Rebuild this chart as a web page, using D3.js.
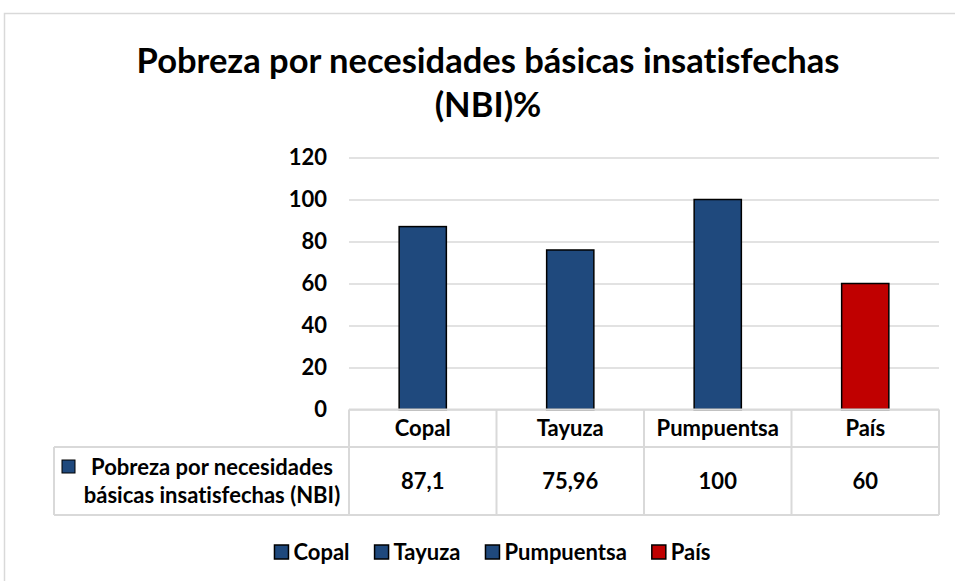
<!DOCTYPE html>
<html>
<head>
<meta charset="utf-8">
<script src="https://cdn.jsdelivr.net/npm/d3@7"></script>
<style>
  body { margin: 0; background: #fff; }
  text { font-family: Lato, "Open Sans", sans-serif; font-weight: bold; fill: #000; font-variant-ligatures: none; }
</style>
</head>
<body>
<div id="chart"></div>
<script>
var categories = ["Copal", "Tayuza", "Pumpuentsa", "País"];
var values = [87.1, 75.96, 100, 60];
var valueLabels = ["87,1", "75,96", "100", "60"];
var barColors = ["#1F497D", "#1F497D", "#1F497D", "#C00000"];
var yTicks = [0, 20, 40, 60, 80, 100, 120];
var seriesName = ["Pobreza por necesidades", "básicas insatisfechas (NBI)"];
var titleLines = ["Pobreza por necesidades básicas insatisfechas", "(NBI)%"];

var width = 955, height = 581;
var plotLeft = 349, plotRight = 939, plotTop = 157.5, plotBottom = 409.5;
var headerBottom = 447, tableBottom = 515, tableLeft = 54;
var gridColor = "#d9d9d9";
var fontSize = "22px";

var svg = d3.select("#chart").append("svg")
  .attr("width", width)
  .attr("height", height);

// outer chart frame
svg.append("rect")
  .attr("x", 4.5).attr("y", 13.5)
  .attr("width", 980).attr("height", 620)
  .attr("fill", "none")
  .attr("stroke", gridColor)
  .attr("stroke-width", 1.5);

// title
svg.selectAll(".title")
  .data(titleLines)
  .enter().append("text")
  .attr("class", "title")
  .attr("x", 488)
  .attr("y", function(d, i) { return 73 + i * 44; })
  .attr("text-anchor", "middle")
  .style("font-size", "34.5px")
  .text(function(d) { return d; });

var x = d3.scaleBand().domain(categories).range([plotLeft, plotRight]);
var y = d3.scaleLinear().domain([0, 120]).range([plotBottom, plotTop]);

// gridlines + tick labels
var yAxis = svg.append("g")
  .attr("transform", "translate(" + plotLeft + ",0)")
  .call(d3.axisLeft(y).tickValues(yTicks).tickSize(-(plotRight - plotLeft)).tickPadding(22));
yAxis.select(".domain").remove();
yAxis.selectAll(".tick line")
  .attr("stroke", gridColor)
  .attr("stroke-width", 1.5);
yAxis.selectAll(".tick text")
  .style("font-size", fontSize)
  .style("font-family", "Lato, sans-serif")
  .attr("fill", "#000");

// bars
var barW = x.bandwidth() * 0.32;
svg.selectAll(".bar")
  .data(values)
  .enter().append("rect")
  .attr("class", "bar")
  .attr("x", function(d, i) { return x(categories[i]) + (x.bandwidth() - barW) / 2; })
  .attr("y", function(d) { return y(d); })
  .attr("width", barW)
  .attr("height", function(d) { return y(0) - y(d); })
  .attr("fill", function(d, i) { return barColors[i]; })
  .attr("stroke", "#000")
  .attr("stroke-width", 1.5);

// data table
var table = svg.append("g");
var lineStyle = function(sel) {
  sel.attr("stroke", gridColor).attr("stroke-width", 2).attr("fill", "none");
};
table.append("line").attr("x1", plotLeft).attr("x2", plotRight).attr("y1", plotBottom).attr("y2", plotBottom).call(lineStyle);
table.append("line").attr("x1", tableLeft).attr("x2", plotRight).attr("y1", headerBottom).attr("y2", headerBottom).call(lineStyle);
table.append("line").attr("x1", tableLeft).attr("x2", plotRight).attr("y1", tableBottom).attr("y2", tableBottom).call(lineStyle);
table.append("line").attr("x1", tableLeft).attr("x2", tableLeft).attr("y1", headerBottom).attr("y2", tableBottom).call(lineStyle);
table.selectAll(".vline")
  .data(categories.concat(["end"]))
  .enter().append("line")
  .attr("class", "vline")
  .attr("x1", function(d) { return d === "end" ? plotRight : x(d); })
  .attr("x2", function(d) { return d === "end" ? plotRight : x(d); })
  .attr("y1", plotBottom)
  .attr("y2", tableBottom)
  .call(lineStyle);

table.selectAll(".cat")
  .data(categories)
  .enter().append("text")
  .attr("class", "cat")
  .attr("x", function(d) { return x(d) + x.bandwidth() / 2; })
  .attr("y", (plotBottom + headerBottom) / 2)
  .attr("dy", "0.35em")
  .attr("text-anchor", "middle")
  .style("font-size", fontSize)
  .text(function(d) { return d; });

table.selectAll(".val")
  .data(valueLabels)
  .enter().append("text")
  .attr("class", "val")
  .attr("x", function(d, i) { return x(categories[i]) + x.bandwidth() / 2; })
  .attr("y", (headerBottom + tableBottom) / 2)
  .attr("dy", "0.35em")
  .attr("text-anchor", "middle")
  .style("font-size", fontSize)
  .text(function(d) { return d; });

// series key in table
table.append("rect")
  .attr("x", 62).attr("y", 460)
  .attr("width", 13).attr("height", 13)
  .attr("fill", "#1F497D")
  .attr("stroke", "#000")
  .attr("stroke-width", 1);
table.selectAll(".series")
  .data(seriesName)
  .enter().append("text")
  .attr("class", "series")
  .attr("x", 212)
  .attr("y", function(d, i) { return 467 + i * 28; })
  .attr("dy", "0.35em")
  .attr("text-anchor", "middle")
  .style("font-size", fontSize)
  .text(function(d) { return d; });

// legend
var legend = svg.append("g");
var items = legend.selectAll(".item")
  .data(categories)
  .enter().append("g")
  .attr("class", "item");
items.append("rect")
  .attr("width", 14).attr("height", 14)
  .attr("y", -7)
  .attr("fill", function(d, i) { return barColors[i]; })
  .attr("stroke", "#000")
  .attr("stroke-width", 1.5);
items.append("text")
  .attr("x", 19)
  .attr("dy", "0.35em")
  .style("font-size", fontSize)
  .text(function(d) { return d; });

var offsets = [], total = 0;
items.each(function() {
  offsets.push(total);
  total += 19 + this.querySelector("text").getComputedTextLength() + 25;
});
total -= 25;
var legendX = 492.5 - total / 2;
items.attr("transform", function(d, i) {
  return "translate(" + (legendX + offsets[i]) + ",552)";
});
</script>
</body>
</html>
